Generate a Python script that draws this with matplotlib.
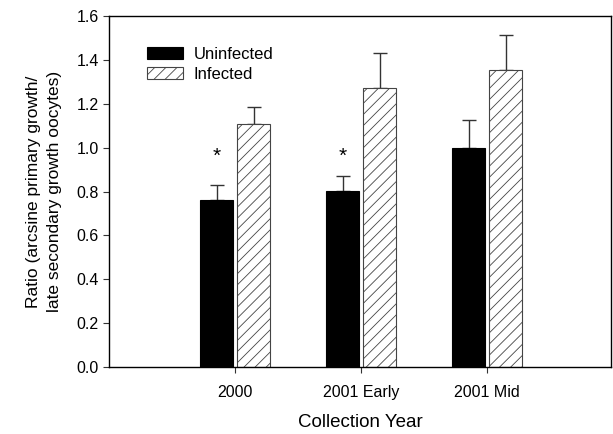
import matplotlib
matplotlib.use('Agg')
import matplotlib.pyplot as plt
import numpy as np

plt.rcParams['font.family'] = ['Liberation Sans', 'DejaVu Sans']
plt.rcParams['hatch.linewidth'] = 0.6

years = ['2000', '2001 Early', '2001 Mid']
uninfected = [0.764, 0.802, 0.997]
uninfected_err = [0.066, 0.067, 0.131]
infected = [1.106, 1.273, 1.354]
infected_err = [0.079, 0.157, 0.159]
star_y = [0.96, 0.96]  # asterisks above uninfected bars in 2000 and 2001 Early

fig = plt.figure(figsize=(6.13, 4.34), dpi=100)
ax = fig.add_axes([0.178, 0.154, 0.819, 0.809])

x = np.arange(len(years))
w = 0.262
off = 0.147

ax.bar(x - off, uninfected, w, color='black', edgecolor='black', linewidth=0.8,
       label='Uninfected', zorder=2)
ax.bar(x + off, infected, w, color='white', edgecolor='#444444', linewidth=0.8,
       hatch='///', label='Infected', zorder=2)

ax.errorbar(x - off, uninfected, yerr=[np.zeros(3), uninfected_err], fmt='none',
            ecolor='#333333', elinewidth=1, capsize=5, capthick=1, zorder=1)
ax.errorbar(x + off, infected, yerr=[np.zeros(3), infected_err], fmt='none',
            ecolor='#333333', elinewidth=1, capsize=5, capthick=1, zorder=1)

for i, y in enumerate(star_y):
    ax.text(x[i] - off, y, '*', ha='center', va='center', fontsize=15)

ax.set_xlim(-1.0, 2.984)
ax.set_ylim(0, 1.6)
ax.set_yticks(np.arange(0, 1.61, 0.2))
ax.set_yticklabels(['%.1f' % v for v in np.arange(0, 1.61, 0.2)])
ax.set_xticks(x)
ax.set_xticklabels(years)
ax.tick_params(axis='both', direction='out', length=4, width=0.8, labelsize=11.5,
               color='#333333')
ax.tick_params(axis='x', pad=9)
for s in ax.spines.values():
    s.set_linewidth(1.0)

ax.set_xlabel('Collection Year', fontsize=13.5, labelpad=10)
ax.set_ylabel('Ratio (arcsine primary growth/\nlate secondary growth oocytes)',
              fontsize=12.5, labelpad=10, linespacing=1.5)

ax.legend(loc='upper left', bbox_to_anchor=(0.045, 0.955), frameon=False,
          fontsize=12, handlelength=2.2, handleheight=0.7, handletextpad=0.6,
          labelspacing=0.3)

fig.savefig('out.png', dpi=100)
